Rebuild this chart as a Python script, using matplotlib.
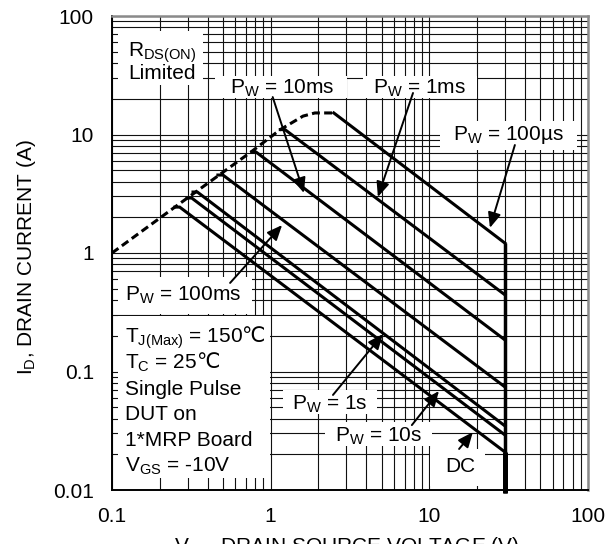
import numpy as np
import matplotlib
matplotlib.use('Agg')
import matplotlib.pyplot as plt
from matplotlib.patches import Rectangle

plt.rcParams['font.family'] = ['Liberation Sans', 'DejaVu Sans']
plt.rcParams['mathtext.fontset'] = 'custom'
plt.rcParams['mathtext.rm'] = 'Liberation Sans'
plt.rcParams['mathtext.it'] = 'Liberation Sans:italic'
plt.rcParams['mathtext.bf'] = 'Liberation Sans:bold'
plt.rcParams['mathtext.sf'] = 'DejaVu Sans'

# ---------------- data ----------------
# RDS(on) limit (dashed)
rds_v = [0.1, 0.25, 0.76, 1.15, 1.6, 1.9, 2.5]
rds_i = [1.0, 2.45, 7.2, 11.0, 14.3, 15.2, 15.2]

# pulse-width limit lines
pw_labels = ['100µs', '1ms', '10ms', '100ms', '1s', '10s', 'DC']
pw_v_start = [2.5, 1.15, 0.76, 0.465, 0.324, 0.297, 0.249]
pw_v_knee = [2.5, 1.23, 0.81, 0.50, 0.345, 0.318, 0.267]
pw_i_start = [15.2, 11.0, 7.1, 4.55, 3.27, 2.91, 2.44]
pw_i_end = [1.21, 0.443, 0.1845, 0.074, 0.0347, 0.0291, 0.0209]
v_bvdss = 30.0
i_floor = 0.0094

# annotation arrows (tail -> tip), data coords
arrow_tail = {'100µs': (34.6, 8.15), '1ms': (7.89, 22.4), '10ms': (1.03, 20.7),
              '100ms': (0.555, 0.559), '1s': (2.47, 0.0634), '10s': (7.76, 0.0353),
              'DC': (15.4, 0.0222)}
arrow_tip = {'100µs': (24.1, 1.63), '1ms': (4.74, 2.97), '10ms': (1.62, 3.21),
             '100ms': (1.18, 1.72), '1s': (5.10, 0.207), '10s': (11.5, 0.0684),
             'DC': (18.8, 0.0308)}

x_ticks = [0.1, 1, 10, 100]
x_tick_labels = ['0.1', '1', '10', '100']
y_ticks = [0.01, 0.1, 1, 10, 100]
y_tick_labels = ['0.01', '0.1', '1', '10', '100']

# ---------------- figure ----------------
W, H = 613, 544
fig = plt.figure(figsize=(W / 100, H / 100), dpi=100)
L, R, T, B = 112, 588, 16, 490
ax = fig.add_axes([L / W, (H - B) / H, (R - L) / W, (B - T) / H])
ax.set_xscale('log')
ax.set_yscale('log')
ax.set_xlim(0.1, 100)
ax.set_ylim(0.01, 100)

minor_x = [m * 10.0 ** e for e in range(-1, 2) for m in range(2, 10)]
minor_y = [m * 10.0 ** e for e in range(-2, 2) for m in range(2, 10)]
ax.set_xticks(x_ticks)
ax.set_xticklabels(x_tick_labels)
ax.set_xticks(minor_x, minor=True)
ax.set_xticklabels([], minor=True)
ax.set_yticks(y_ticks)
ax.set_yticklabels(y_tick_labels)
ax.set_yticks(minor_y, minor=True)
ax.set_yticklabels([], minor=True)
ax.tick_params(which='both', length=0)
ax.tick_params(axis='x', which='major', pad=12, labelsize=15)
ax.tick_params(axis='y', which='major', pad=13, labelsize=15)
ax.set_axisbelow(True)
ax.grid(which='both', color='#111111', lw=0.8)

for s in ['left', 'bottom']:
    ax.spines[s].set_color('black')
    ax.spines[s].set_linewidth(1.4)
for s in ['top', 'right']:
    ax.spines[s].set_color('#8a8a8a')
    ax.spines[s].set_linewidth(1.8)


def fx(px):
    return (px - L) / (R - L)


def fy(py):
    return (B - py) / (B - T)


# white label boxes (pixel extents -> axes fraction)
boxes = [(118, 203, 31, 85), (215, 347, 76, 98), (363, 477, 76, 98),
         (440, 577, 121, 150), (118, 252, 277, 314), (118, 270, 316, 478),
         (283, 377, 390, 414), (325, 432, 422, 446), (430, 485, 449, 486)]
for x0, x1, y0, y1 in boxes:
    ax.add_patch(Rectangle((fx(x0), fy(y1)), fx(x1) - fx(x0), fy(y0) - fy(y1),
                           transform=ax.transAxes, facecolor='white',
                           edgecolor='none', zorder=1.5))

# curves
ax.plot(rds_v, rds_i, color='black', lw=2.2, dashes=(2.6, 1.4), zorder=3)
for vs, vk, i0, i1 in zip(pw_v_start, pw_v_knee, pw_i_start, pw_i_end):
    ax.plot([vs, vk, v_bvdss], [i0, i0, i1], color='black', lw=2.2,
            solid_joinstyle='miter', zorder=3)
ax.plot([v_bvdss, v_bvdss], [pw_i_end[0], i_floor], color='black', lw=2.5,
        clip_on=False, zorder=3, solid_capstyle='butt')
ax.plot([v_bvdss, v_bvdss], [pw_i_end[-1], i_floor], color='black', lw=3.6,
        clip_on=False, zorder=3, solid_capstyle='butt')

# arrows
for k in pw_labels:
    ax.annotate('', xy=arrow_tip[k], xytext=arrow_tail[k],
                arrowprops=dict(arrowstyle='-|>,head_length=0.65,head_width=0.28',
                                color='black', lw=1.4, shrinkA=0, shrinkB=0,
                                mutation_scale=14), zorder=4)

fs = 15
texts = [
    (r'R$_\mathrm{DS(ON)}$', 128, 57),
    ('Limited', 128, 79),
    (r'P$_\mathrm{W}$ = 10ms', 230, 94),
    (r'P$_\mathrm{W}$ = 1ms', 373, 94),
    (r'P$_\mathrm{W}$ = 100µs', 453, 140),
    (r'P$_\mathrm{W}$ = 100ms', 125, 301),
    (r'T$_\mathrm{J(Max)}$ = 150$\mathsf{℃}$', 125, 343),
    (r'T$_\mathrm{C}$ = 25$\mathsf{℃}$', 125, 369),
    ('Single Pulse', 125, 395),
    ('DUT on', 125, 420),
    ('1*MRP Board', 125, 446),
    (r'V$_\mathrm{GS}$ = -10V', 125, 472),
    (r'P$_\mathrm{W}$ = 1s', 292, 410),
    (r'P$_\mathrm{W}$ = 10s', 335, 442),
    ('DC', 445, 472),
]
for s, px, py in texts:
    ax.text(fx(px), fy(py), s, transform=ax.transAxes, ha='left', va='baseline',
            fontsize=fs, zorder=5)

# axis titles
fig.text(26 / W, (H - 257) / H, r'I$_\mathrm{D}$, DRAIN CURRENT (A)', rotation=90,
         ha='center', va='center', fontsize=fs)
fig.text(347 / W, (H - 552) / H, r'V$_\mathrm{DS}$, DRAIN SOURCE VOLTAGE (V)',
         ha='center', va='baseline', fontsize=fs)

fig.savefig('out.png', dpi=100)
